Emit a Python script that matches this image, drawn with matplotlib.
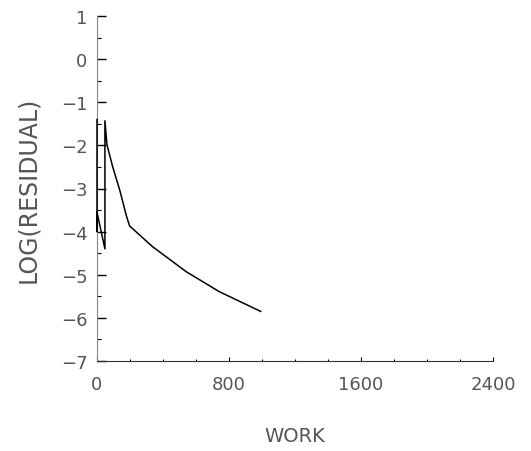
import matplotlib

matplotlib.use("Agg")
import matplotlib.pyplot as plt
from matplotlib.ticker import MultipleLocator

# residual history
work = [0, 0, 0, 48, 48, 60, 96, 138, 180, 198, 337, 541, 740, 992]
log_residual = [-1.4, -4.0, -3.55, -4.4, -1.43, -1.98, -2.51, -3.04, -3.66,
                -3.87, -4.35, -4.93, -5.39, -5.85]
x_ticks = [0, 800, 1600, 2400]
y_ticks = [1, 0, -1, -2, -3, -4, -5, -6, -7]

fig = plt.figure(figsize=(5.31, 4.52), dpi=100)
ax = fig.add_axes([97 / 531, 1 - 362 / 452, (493 - 97) / 531, (362 - 17) / 452])

ax.plot(work, log_residual, color="black", linewidth=1.1, clip_on=False, zorder=4)

ax.set_xlim(0, 2400)
ax.set_ylim(-7, 1)
ax.set_xticks(x_ticks)
ax.set_yticks(y_ticks)
ax.xaxis.set_minor_locator(MultipleLocator(200))
ax.yaxis.set_minor_locator(MultipleLocator(0.5))
ax.tick_params(axis="y", which="major", direction="in", length=6.5, width=1.0, pad=7)
ax.tick_params(axis="y", which="minor", direction="in", length=3, width=0.8)
ax.tick_params(axis="x", which="major", direction="in", length=3, width=0.8, pad=10)
ax.tick_params(axis="x", which="minor", direction="in", length=1.5, width=0.8)
ax.tick_params(labelsize=13, labelcolor="#555555")

ax.spines[["top", "right"]].set_visible(False)
ax.spines["left"].set_color("#888888")
ax.spines["bottom"].set_color("#333333")

ax.set_xlabel("WORK", fontsize=14, color="#555555", va="center", ha="center")
ax.set_ylabel("LOG(RESIDUAL)", fontsize=17, color="#555555", va="center", ha="center")
ax.xaxis.set_label_coords(0.5, -0.217)
ax.yaxis.set_label_coords(-0.174, 0.5)

fig.savefig("out.png", dpi=100, facecolor="white")
